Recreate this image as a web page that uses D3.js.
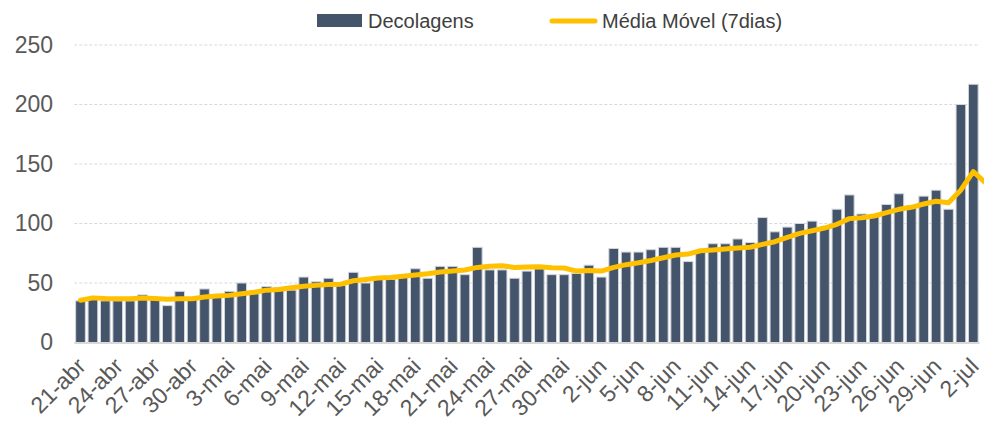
<!DOCTYPE html>
<html>
<head>
<meta charset="utf-8">
<script src="https://cdn.jsdelivr.net/npm/d3@7"></script>
<style>
  html, body { margin: 0; padding: 0; background: #fff; }
  svg { display: block; font-family: "Liberation Sans", Arial, sans-serif; }
</style>
</head>
<body>
<svg id="chart" width="984" height="422"></svg>
<script>
const categories = [
  "21-abr","22-abr","23-abr","24-abr","25-abr","26-abr","27-abr","28-abr","29-abr","30-abr",
  "1-mai","2-mai","3-mai","4-mai","5-mai","6-mai","7-mai","8-mai","9-mai","10-mai",
  "11-mai","12-mai","13-mai","14-mai","15-mai","16-mai","17-mai","18-mai","19-mai","20-mai",
  "21-mai","22-mai","23-mai","24-mai","25-mai","26-mai","27-mai","28-mai","29-mai","30-mai","31-mai",
  "1-jun","2-jun","3-jun","4-jun","5-jun","6-jun","7-jun","8-jun","9-jun","10-jun",
  "11-jun","12-jun","13-jun","14-jun","15-jun","16-jun","17-jun","18-jun","19-jun","20-jun",
  "21-jun","22-jun","23-jun","24-jun","25-jun","26-jun","27-jun","28-jun","29-jun","30-jun",
  "1-jul","2-jul","3-jul"
];

const decolagens = [
  35,37,35,35,35,40,36,31,43,36,
  45,38,43,50,41,47,46,44,55,51,
  54,48,59,50,53,53,57,62,54,64,
  64,57,80,61,61,54,60,62,57,57,58,
  65,55,79,76,76,78,80,80,68,76,
  83,83,87,84,105,93,97,100,102,96,
  112,124,108,107,116,125,115,123,128,112,
  200,217,null
];

const mediaMovel = [
  35.5,37.5,37,36.8,36.8,37.3,37,36.3,36.8,36.8,
  38.3,39,39.6,41,42.2,44,44.5,46,47.3,48,
  48.8,49,51.9,53,54.2,54.7,55.6,56.7,57.8,59.2,
  60,60.9,63.1,64,64.5,63.1,63.4,63.7,62.8,62.6,60,
  60.6,60,63.1,65.4,67,68.9,71.2,73.5,74.3,77.1,
  77.7,78.5,79.4,80,82.5,84.7,88.4,91.7,93.9,96.2,
  99.3,104.1,104.9,106.3,109.1,111.9,113.6,116.4,118.7,117.5,
  128.2,143.6,134
];

const yTicks = [0, 50, 100, 150, 200, 250];
const xTickLabels = categories.filter((d, i) => i % 3 === 0 && i < 73);
const legendLabels = ["Decolagens", "Média Móvel (7dias)"];

const svg = d3.select("#chart");
const step = 12.4;
const x0 = 74.3;
const x = d3.scaleBand()
  .domain(categories)
  .range([x0, x0 + step * categories.length])
  .paddingInner(0.22)
  .paddingOuter(0.11);
const y = d3.scaleLinear().domain([0, 250]).range([342.5, 45]);

const plotRight = x0 + step * 73;

// gridlines
svg.append("g").selectAll("line")
  .data(yTicks.filter(d => d > 0))
  .join("line")
  .attr("x1", x0).attr("x2", plotRight)
  .attr("y1", d => y(d)).attr("y2", d => y(d))
  .attr("stroke", "#d9d9d9").attr("stroke-width", 1)
  .attr("stroke-dasharray", "3,2");

// y axis labels
const yAxis = d3.axisLeft(y).tickValues(yTicks).tickSize(0).tickPadding(0);
const yg = svg.append("g").attr("transform", "translate(53,0)").call(yAxis);
yg.select(".domain").remove();
yg.selectAll("text")
  .attr("font-size", 23)
  .attr("fill", "#595959")
  .attr("font-family", "Liberation Sans, Arial, sans-serif");

// bars
const barData = categories.map((c, i) => ({ c, v: decolagens[i] })).filter(d => d.v != null);
svg.append("g").selectAll("rect")
  .data(barData)
  .join("rect")
  .attr("x", d => x(d.c))
  .attr("width", x.bandwidth())
  .attr("y", d => y(d.v))
  .attr("height", d => y(0) - y(d.v))
  .attr("fill", "#44546a")
  .attr("stroke", "#d3d7dc")
  .attr("stroke-width", 1);

// baseline
svg.append("line")
  .attr("x1", x0).attr("x2", plotRight)
  .attr("y1", y(0) + 0.5).attr("y2", y(0) + 0.5)
  .attr("stroke", "#d9d9d9").attr("stroke-width", 2);

// x axis labels
const xAxis = d3.axisBottom(x).tickValues(xTickLabels).tickSize(0).tickPadding(0);
const xg = svg.append("g").attr("transform", "translate(0,0)").call(xAxis);
xg.select(".domain").remove();
xg.selectAll(".tick").attr("transform", d => `translate(${x(d) + x.bandwidth() / 2 + 1},362)`);
xg.selectAll("text")
  .attr("y", 0).attr("x", 0).attr("dy", "0.35em")
  .attr("text-anchor", "end")
  .attr("transform", "rotate(-45)")
  .attr("font-size", 23)
  .attr("fill", "#595959")
  .attr("font-family", "Liberation Sans, Arial, sans-serif");

// moving average line
const line = d3.line()
  .x((d, i) => x(categories[i]) + x.bandwidth() / 2)
  .y(d => y(d));
svg.append("path")
  .datum(mediaMovel)
  .attr("d", line)
  .attr("fill", "none")
  .attr("stroke", "#ffc000")
  .attr("stroke-width", 5)
  .attr("stroke-linejoin", "round")
  .attr("stroke-linecap", "round");

// legend
const lg = svg.append("g");
lg.append("rect").attr("x", 317).attr("y", 14).attr("width", 45).attr("height", 13).attr("fill", "#44546a");
lg.append("text").attr("x", 368).attr("y", 20.5).attr("dy", "0.35em")
  .attr("font-size", 20).attr("fill", "#404040").text(legendLabels[0]);
lg.append("line").attr("x1", 552).attr("x2", 595).attr("y1", 21).attr("y2", 21)
  .attr("stroke", "#ffc000").attr("stroke-width", 5).attr("stroke-linecap", "round");
lg.append("text").attr("x", 602).attr("y", 20.5).attr("dy", "0.35em")
  .attr("font-size", 20).attr("fill", "#404040").text(legendLabels[1]);
</script>
</body>
</html>
